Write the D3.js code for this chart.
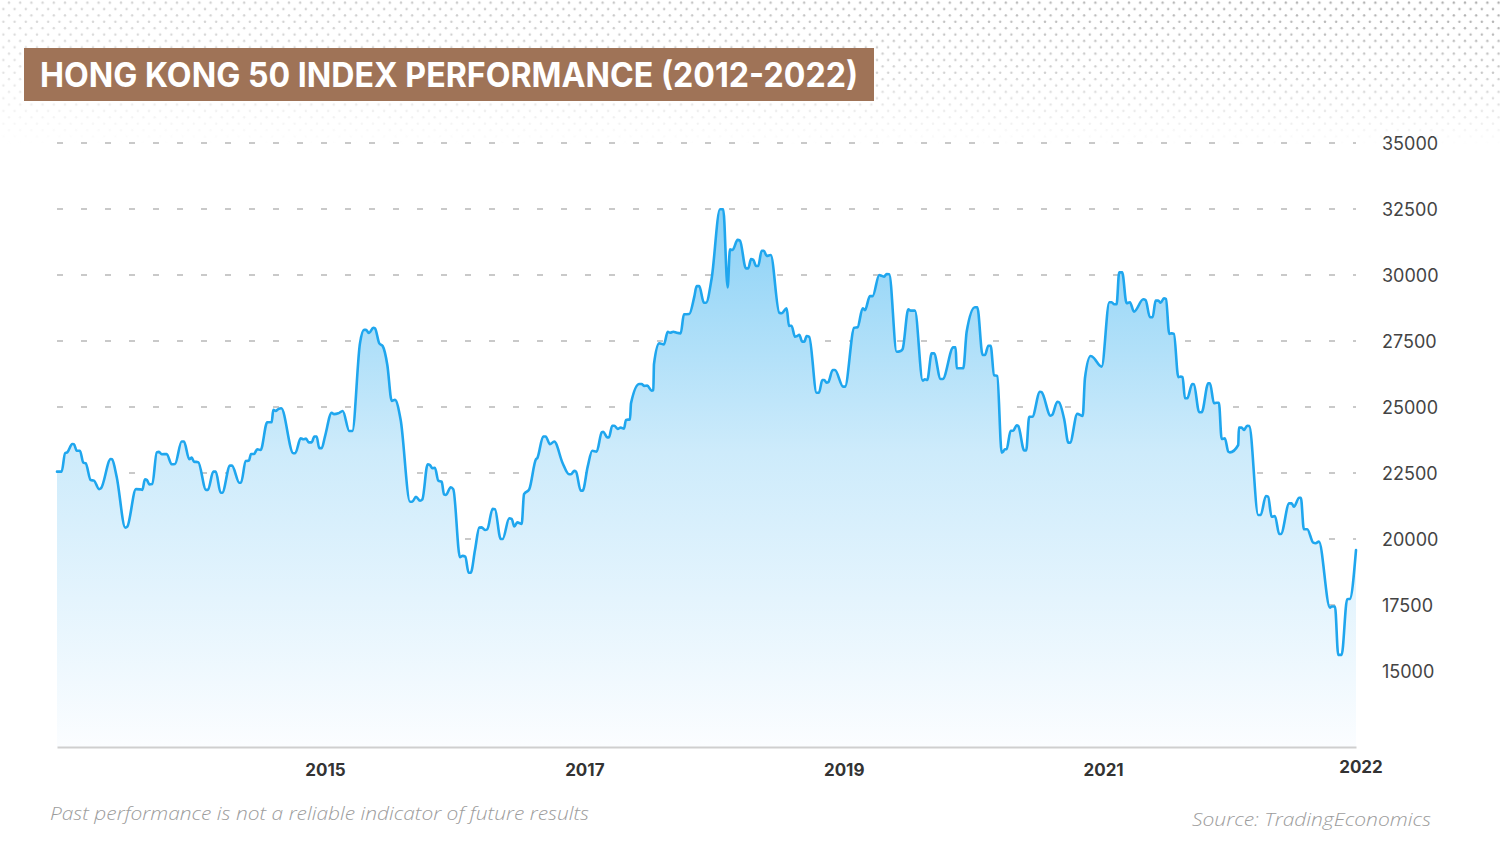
<!DOCTYPE html>
<html><head><meta charset="utf-8">
<script src="https://cdn.jsdelivr.net/npm/d3@7"></script>
<style>html,body{margin:0;padding:0;background:#fff}svg{display:block}</style>
</head><body>
<svg id="chart" width="1500" height="846"></svg>
<script>
const title = "HONG KONG 50 INDEX PERFORMANCE (2012-2022)";
const note = "Past performance is not a reliable indicator of future results";
const source = "Source: TradingEconomics";
const yTicks = [15000,17500,20000,22500,25000,27500,30000,32500,35000];
const xTicks = [2015,2017,2019,2021];
const endLabel = "2022";

// dates as decimal years
const years = [
2012.934,2012.970,2012.996,2013.013,2013.052,2013.065,2013.086,2013.111,2013.137,2013.155,
2013.194,2013.219,2013.258,2013.273,2013.348,2013.358,2013.394,2013.461,2013.476,2013.543,
2013.574,2013.592,2013.612,2013.628,2013.646,2013.669,2013.703,2013.720,2013.741,2013.780,
2013.818,2013.844,2013.895,2013.913,2013.954,2013.973,2013.990,2014.023,2014.083,2014.098,
2014.139,2014.158,2014.196,2014.208,2014.268,2014.283,2014.340,2014.353,2014.389,2014.414,
2014.430,2014.453,2014.478,2014.504,2014.555,2014.589,2014.602,2014.620,2014.640,2014.663,
2014.756,2014.771,2014.813,2014.833,2014.854,2014.875,2014.898,2014.918,2014.936,2014.956,
2014.975,2015.000,2015.052,2015.070,2015.103,2015.137,2015.188,2015.211,2015.270,2015.301,
2015.316,2015.340,2015.373,2015.386,2015.419,2015.445,2015.481,2015.515,2015.540,2015.584,
2015.656,2015.673,2015.702,2015.733,2015.751,2015.792,2015.810,2015.828,2015.848,2015.874,
2015.900,2015.918,2015.933,2015.970,2015.990,2016.041,2016.062,2016.082,2016.108,2016.124,
2016.157,2016.190,2016.208,2016.234,2016.252,2016.293,2016.311,2016.355,2016.370,2016.421,
2016.440,2016.460,2016.483,2016.517,2016.535,2016.575,2016.627,2016.637,2016.683,2016.702,
2016.735,2016.768,2016.833,2016.882,2016.897,2016.923,2016.936,2016.972,2016.987,2017.026,
2017.061,2017.095,2017.134,2017.146,2017.177,2017.190,2017.215,2017.231,2017.257,2017.280,
2017.306,2017.321,2017.352,2017.360,2017.424,2017.442,2017.460,2017.485,2017.519,2017.532,
2017.537,2017.578,2017.614,2017.643,2017.661,2017.686,2017.712,2017.743,2017.768,2017.809,
2017.848,2017.866,2017.886,2017.922,2017.938,2017.982,2018.046,2018.071,2018.105,2018.123,
2018.143,2018.182,2018.200,2018.246,2018.264,2018.285,2018.303,2018.324,2018.341,2018.367,
2018.385,2018.406,2018.437,2018.503,2018.521,2018.560,2018.578,2018.598,2018.624,2018.642,
2018.657,2018.681,2018.696,2018.714,2018.734,2018.791,2018.809,2018.835,2018.850,2018.868,
2018.881,2018.915,2018.932,2018.996,2019.010,2019.081,2019.107,2019.146,2019.164,2019.202,
2019.223,2019.274,2019.292,2019.312,2019.331,2019.351,2019.408,2019.439,2019.454,2019.498,
2019.516,2019.549,2019.609,2019.626,2019.644,2019.678,2019.696,2019.747,2019.763,2019.845,
2019.863,2019.871,2019.922,2019.948,2020.012,2020.030,2020.071,2020.089,2020.115,2020.133,
2020.159,2020.184,2020.218,2020.230,2020.243,2020.256,2020.287,2020.307,2020.333,2020.346,
2020.392,2020.407,2020.430,2020.454,2020.513,2020.526,2020.595,2020.608,2020.647,2020.660,
2020.701,2020.732,2020.745,2020.801,2020.843,2020.860,2020.904,2020.916,2020.989,2021.048,
2021.066,2021.086,2021.104,2021.124,2021.147,2021.181,2021.207,2021.238,2021.310,2021.328,
2021.361,2021.382,2021.405,2021.425,2021.444,2021.469,2021.485,2021.510,2021.529,2021.546,
2021.580,2021.598,2021.613,2021.631,2021.649,2021.687,2021.700,2021.741,2021.760,2021.811,
2021.824,2021.855,2021.875,2021.893,2021.914,2021.939,2021.965,2021.978,2022.042,2022.047,
2022.068,2022.086,2022.111,2022.127,2022.196,2022.215,2022.255,2022.273,2022.299,2022.325,
2022.358,2022.371,2022.435,2022.454,2022.471,2022.512,2022.525,2022.548,2022.574,2022.620,
2022.639,2022.664,2022.749,2022.762,2022.788,2022.813,2022.839,2022.882,2022.903,2022.950
];

// Hang Seng index level
const values = [
22550,22550,23250,23280,23600,23590,23340,23340,22890,22870,
22230,22210,21890,21920,23030,23020,22360,20430,20470,21890,
21880,21860,22260,22230,22070,22080,23280,23300,23210,23220,
22830,22840,23690,23690,23020,23080,22930,22910,21860,21860,
22550,22550,21750,21750,22780,22780,22130,22130,22950,22970,
23220,23220,23400,23370,24420,24420,24890,24850,24920,24950,
23250,23250,23810,23780,23800,23660,23660,23880,23880,23440,
23440,23880,24780,24730,24760,24850,24090,24090,27410,27920,
27920,27800,28000,27980,27410,27310,26590,25230,25270,24510,
21410,21410,21600,21450,21500,22830,22800,22680,22700,22210,
22170,21690,21670,21960,21880,19310,19360,19330,18720,18720,
19580,20430,20440,20340,20370,21140,21130,20000,20000,20780,
20760,20470,20630,20570,21700,21880,23020,23060,23880,23880,
23590,23690,22870,22450,22450,22580,22550,21830,21830,22740,
23340,23310,24040,24060,23850,23850,24290,24290,24170,24220,
24180,24510,24530,25140,25870,25870,25800,25810,25620,25640,
26620,27410,27370,27850,27810,27850,27810,27790,28510,28520,
29180,29580,29580,28950,28950,29880,32490,32490,29530,30970,
30950,31330,31300,30250,30250,30600,30570,30340,30340,30920,
30920,30720,30760,28570,28550,28740,28070,28080,27660,27690,
27730,27470,27470,27690,27660,25540,25540,26020,26020,25920,
25940,26400,26400,25770,25770,28000,28020,28740,28670,29200,
29200,30000,29970,29940,30040,30030,27090,27120,27190,28700,
28650,28650,26000,26050,26020,27030,27030,26060,26060,27260,
27260,26470,26470,27850,28780,28780,26970,26970,27320,27320,
26210,26170,23270,23310,23400,23400,24100,24100,24310,24280,
23350,23350,24630,24630,25580,25560,24670,24700,25200,25180,
24510,23650,23650,24740,24660,26090,26930,26910,26530,28970,
28970,28890,28890,30100,30100,28930,28970,28610,29080,29050,
28400,28400,29030,29030,28950,29120,29090,27770,27790,27770,
26130,26150,26130,25330,25330,25870,25860,24800,24800,25900,
25900,25140,25160,25160,23790,23810,23310,23280,23560,24220,
24220,24130,24290,24280,20910,20910,21630,21600,20840,20870,
20190,20190,21350,21350,21220,21560,21560,20370,20370,19860,
19840,19900,17400,17440,17440,15610,15610,17720,17730,19580
];

const data = years.map((t, i) => ({t, v: values[i]}));
const svg = d3.select("#chart");
const W = 1500, H = 846;
const defs = svg.append("defs");

// ---- dotted header background ----
const pat = defs.append("pattern").attr("id","dots").attr("patternUnits","userSpaceOnUse")
  .attr("width",11.2).attr("height",12.74).attr("x",9).attr("y",-0.5);
pat.append("circle").attr("cx",0.0).attr("cy",3.2).attr("r",1.2).attr("fill","#a9a9a9");
pat.append("circle").attr("cx",5.6).attr("cy",9.57).attr("r",1.2).attr("fill","#a9a9a9");
pat.append("circle").attr("cx",11.2).attr("cy",3.2).attr("r",1.2).attr("fill","#a9a9a9");

const gv = defs.append("linearGradient").attr("id","fadeV").attr("gradientUnits","userSpaceOnUse")
  .attr("x1",0).attr("y1",0).attr("x2",0).attr("y2",145);
gv.append("stop").attr("offset",0).attr("stop-color","#fff").attr("stop-opacity",1);
gv.append("stop").attr("offset",0.5).attr("stop-color","#fff").attr("stop-opacity",0.65);
gv.append("stop").attr("offset",1).attr("stop-color","#fff").attr("stop-opacity",0);
const gh = defs.append("linearGradient").attr("id","fadeH").attr("gradientUnits","userSpaceOnUse")
  .attr("x1",0).attr("y1",0).attr("x2",W).attr("y2",0);
gh.append("stop").attr("offset",0).attr("stop-color","#fff").attr("stop-opacity",0.5);
gh.append("stop").attr("offset",1).attr("stop-color","#fff").attr("stop-opacity",1);
defs.append("mask").attr("id","maskV").append("rect").attr("width",W).attr("height",150).attr("fill","url(#fadeV)");
defs.append("mask").attr("id","maskH").append("rect").attr("width",W).attr("height",150).attr("fill","url(#fadeH)");
svg.append("g").attr("mask","url(#maskH)")
  .append("rect").attr("width",W).attr("height",150).attr("fill","url(#dots)").attr("mask","url(#maskV)");

// ---- scales ----
const x = d3.scaleLinear().domain([2012.934, 2022.950]).range([57, 1356]);
const y = d3.scaleLinear().domain([12120, 35000]).range([747, 143]);

// ---- gridlines ----
svg.append("g").selectAll("line").data(yTicks).join("line")
  .attr("x1", x.range()[0]).attr("x2", x.range()[1])
  .attr("y1", d => y(d)).attr("y2", d => y(d))
  .attr("stroke", "#c9c9c9").attr("stroke-width", 2)
  .attr("stroke-dasharray", "6,18");

// ---- area gradient ----
const ag = defs.append("linearGradient").attr("id","areaGrad").attr("gradientUnits","userSpaceOnUse")
  .attr("x1",0).attr("y1",y(32500)).attr("x2",0).attr("y2",y(12120));
ag.append("stop").attr("offset",0).attr("stop-color","#8ad1f6");
ag.append("stop").attr("offset",0.45).attr("stop-color","#cdebfb");
ag.append("stop").attr("offset",1).attr("stop-color","#fbfdff");

const curve = d3.curveMonotoneX;
svg.append("path").datum(data)
  .attr("d", d3.area().x(d => x(d.t)).y0(y(12120)).y1(d => y(d.v)).curve(curve))
  .attr("fill", "url(#areaGrad)");
svg.append("path").datum(data)
  .attr("d", d3.line().x(d => x(d.t)).y(d => y(d.v)).curve(curve))
  .attr("fill", "none").attr("stroke", "#1fa6ee").attr("stroke-width", 2.6)
  .attr("stroke-linejoin", "round").attr("stroke-linecap", "round");

// ---- x axis ----
const xAxis = svg.append("g").attr("transform", `translate(0,${y(12120)})`)
  .call(d3.axisBottom(x).tickValues(xTicks).tickFormat(d3.format("d")).tickSize(0).tickSizeOuter(0).tickPadding(17));
xAxis.select(".domain").attr("stroke", "#cfcfcf").attr("stroke-width", 2);
xAxis.selectAll("text").attr("font-family", "Inter, 'Open Sans', sans-serif")
  .attr("font-size", 17).attr("font-weight", 700).attr("fill", "#333");
svg.append("text").attr("x", x.range()[1] + 5).attr("y", 773)
  .attr("text-anchor", "middle").attr("font-family", "Inter, 'Open Sans', sans-serif")
  .attr("font-size", 17).attr("font-weight", 700).attr("fill", "#333").text(endLabel);

// ---- y axis ----
const yAxis = svg.append("g").attr("transform", `translate(${x.range()[1]},0)`)
  .call(d3.axisRight(y).tickValues(yTicks).tickFormat(d3.format("d")).tickSize(0).tickPadding(26));
yAxis.select(".domain").remove();
yAxis.selectAll("text").attr("font-family", "Inter, 'Open Sans', sans-serif")
  .attr("font-size", 18).attr("font-weight", 400).attr("fill", "#444").attr("dy", "0.36em");

// ---- title ----
svg.append("rect").attr("x", 24).attr("y", 48).attr("width", 850).attr("height", 53).attr("fill", "#9f7357");
const tt = svg.append("text").attr("x", 40).attr("y", 87)
  .attr("font-family", "Inter, 'Open Sans', sans-serif").attr("font-size", 34).attr("font-weight", 700)
  .attr("fill", "#fff").text(title);
tt.attr("textLength", 818).attr("lengthAdjust", "spacingAndGlyphs");

// ---- footnotes ----
svg.append("text").attr("x", 50).attr("y", 820)
  .attr("font-family", "'Open Sans', Lato, sans-serif").attr("font-style", "italic").attr("font-weight", 300)
  .attr("font-size", 18).attr("fill", "#9c9c9c").text(note)
  .attr("textLength", 539).attr("lengthAdjust", "spacingAndGlyphs");
svg.append("text").attr("x", 1431).attr("y", 826).attr("text-anchor", "end")
  .attr("font-family", "'Open Sans', Lato, sans-serif").attr("font-style", "italic").attr("font-weight", 300)
  .attr("font-size", 18).attr("fill", "#9c9c9c").text(source)
  .attr("textLength", 239).attr("lengthAdjust", "spacingAndGlyphs");
</script>
</body></html>
